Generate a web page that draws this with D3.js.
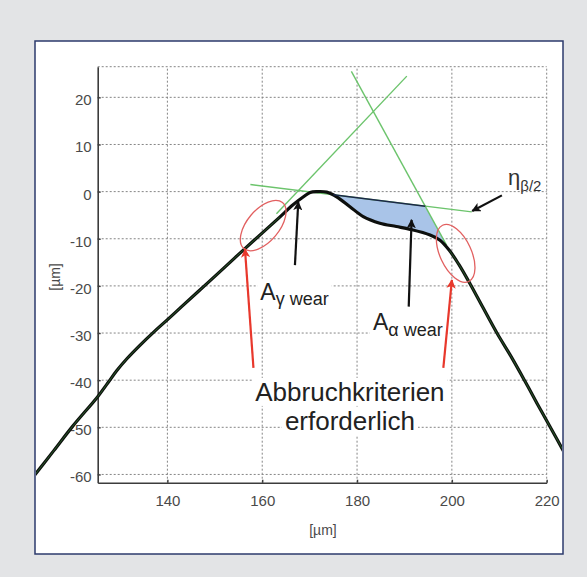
<!DOCTYPE html>
<html>
<head>
<meta charset="utf-8">
<script src="https://cdn.jsdelivr.net/npm/d3@7"></script>
<style>
  html, body { margin: 0; padding: 0; background: #e3e4e6; }
  svg { display: block; }
  text { font-family: "Liberation Sans", Arial, Helvetica, sans-serif; }
</style>
</head>
<body>
<svg id="chart" width="587" height="577"></svg>
<script>
// Measured tool-edge profile (µm)
const profileX = [111.5, 116.0, 120.0, 125.3, 127.5, 129.3, 131.5, 134.2, 137.0, 140.2, 143.0, 146.5,
  150.4, 153.2, 156.0, 160.2, 163.7, 166.5, 168.7, 170.1, 171.5, 173.6, 175.7, 178.5, 181.3, 184.8,
  188.3, 191.2, 195.4, 197.5, 199.5, 201.5, 203.8, 206.5, 209.5, 212.5, 215.3, 218.0, 220.5, 223.8];
const profileY = [-60.8, -55.0, -49.8, -43.5, -40.5, -38.0, -35.4, -32.6, -29.9, -27.0, -24.4, -21.2,
  -17.6, -15.0, -12.4, -8.6, -5.4, -2.8, -1.1, -0.2, 0.0, -0.1, -1.1, -3.2, -5.3, -6.7,
  -7.4, -8.0, -9.2, -10.3, -12.5, -15.5, -19.5, -24.5, -30.0, -35.0, -40.0, -45.0, -49.5, -55.5];

// Straight fits of rake face, flank face and the bisector line η β/2
const rakeFit = [[163.0, -4.7], [190.5, 24.5]];
const flankFit = [[178.8, 25.5], [198.9, -11.4]];
const bisector = [[157.5, 1.5], [204.2, -4.3]];
// Corner where the bisector meets the flank fit
const wearCorner = [194.4, -3.1];
// Range of the profile that bounds the flank wear area
const wearRange = [175.0, 198.9];

// Axis ticks
const xTicks = [140, 160, 180, 200, 220];
const yTicks = [20, 10, 0, -10, -20, -30, -40, -50, -60];

// Annotations (µm)
const critEllipses = [
  { cx: 160.2, cy: -7.2, a: 6.33, b: 3.37, angle: -50 },
  { cx: 200.8, cy: -13.1, a: 6.54, b: 3.3, angle: 65 }
];
const redArrows = [
  [[158.15, -37.4], [156.36, -12.2]],
  [[198.2, -37.4], [200.0, -18.75]]
];
const blackArrows = [
  [[166.9, -15.6], [167.6, -2.2]],
  [[190.9, -24.4], [191.5, -6.0]],
  [[210.55, -0.8], [204.3, -4.1]]
];

const svg = d3.select("#chart");

const frame = { x: 35, y: 41, w: 528, h: 513 };
const x = d3.scaleLinear().domain([125.3, 220]).range([97.7, 546.7]);
const y = d3.scaleLinear().domain([-61.75, 26.5]).range([482.7, 66.7]);

// defs: clip + arrowheads
const defs = svg.append("defs");
defs.append("clipPath").attr("id", "frameClip")
  .append("rect").attr("x", frame.x + 1).attr("y", frame.y + 1)
  .attr("width", frame.w - 2).attr("height", frame.h - 2);
function marker(id, color) {
  defs.append("marker").attr("id", id)
    .attr("viewBox", "0 0 10 10").attr("refX", 9).attr("refY", 5)
    .attr("markerWidth", 4.2).attr("markerHeight", 4.2)
    .attr("markerUnits", "strokeWidth").attr("orient", "auto")
    .append("path").attr("d", "M0,0 L10,5 L0,10 L2.5,5 Z").attr("fill", color);
}
marker("headRed", "#e8382c");
marker("headBlack", "#111");

// Panel
svg.append("rect").attr("x", frame.x).attr("y", frame.y)
  .attr("width", frame.w).attr("height", frame.h)
  .attr("fill", "#fff").attr("stroke", "#2c3a6c").attr("stroke-width", 1.5);

// Grid (dotted)
const grid = svg.append("g").attr("stroke", "#858585").attr("stroke-width", 1)
  .attr("stroke-dasharray", "2,2").attr("fill", "none");
xTicks.forEach(t => grid.append("line")
  .attr("x1", x(t)).attr("x2", x(t)).attr("y1", y.range()[0]).attr("y2", y.range()[1]));
yTicks.concat([y.domain()[1]]).forEach(t => grid.append("line")
  .attr("x1", x.range()[0]).attr("x2", x.range()[1]).attr("y1", y(t)).attr("y2", y(t)));

// Axes
const axisColor = "#3c3c3c";
const gx = svg.append("g").attr("transform", `translate(0,${y.range()[0]})`)
  .call(d3.axisBottom(x).tickValues(xTicks).tickFormat(d3.format("d"))
    .tickSizeInner(-3).tickSizeOuter(0).tickPadding(13));
const gy = svg.append("g").attr("transform", `translate(${x.range()[0]},0)`)
  .call(d3.axisLeft(y).tickValues(yTicks).tickFormat(d => d3.format("d")(d).replace("−", "-"))
    .tickSizeInner(-3).tickSizeOuter(0).tickPadding(6));
[gx, gy].forEach(g => {
  g.select(".domain").attr("stroke", axisColor).attr("stroke-width", 1.6);
  g.selectAll(".tick line").attr("stroke", axisColor).attr("stroke-width", 1.4);
  g.selectAll(".tick text").attr("fill", "#4a4a4a").attr("font-size", 15)
    .attr("font-family", "'Liberation Sans', Arial, sans-serif");
});
gy.selectAll(".tick text").attr("dy", "0.5em");

// Axis titles
svg.append("text").attr("x", 323).attr("y", 535).attr("text-anchor", "middle")
  .attr("font-size", 14).attr("fill", "#4a4a4a").text("[µm]");
svg.append("text").attr("transform", "translate(60,277) rotate(-90)")
  .attr("text-anchor", "middle").attr("font-size", 14).attr("fill", "#4a4a4a").text("[µm]");

// Labels with white backing boxes
const labels = svg.append("g");
function label(px, py, main, sub, mainSize, subSize, subDy, anchor) {
  const t = labels.append("text").attr("x", px).attr("y", py)
    .attr("font-size", mainSize).attr("fill", "#222").attr("text-anchor", anchor || "start");
  t.append("tspan").text(main);
  if (sub) t.append("tspan").attr("font-size", subSize).attr("dy", subDy).text(sub);
  const bb = t.node().getBBox();
  labels.insert("rect", () => t.node())
    .attr("x", bb.x - 3).attr("y", bb.y + 1).attr("width", bb.width + 6).attr("height", bb.height - 2)
    .attr("fill", "#fff");
  return t;
}
label(x(159.6), y(-23.0), "A", "γ wear", 23, 18, 5);
label(x(183.35), y(-29.4), "A", "α wear", 23, 18, 6);
label(x(178.5), y(-44.4), "Abbruchkriterien", null, 26, 0, 0, "middle");
label(x(178.5), y(-50.6), "erforderlich", null, 26, 0, 0, "middle");

// Marks clipped to the panel
const plot = svg.append("g").attr("clip-path", "url(#frameClip)");
const line = d3.line().x(d => x(d[0])).y(d => y(d[1]));
const profile = profileX.map((v, i) => [v, profileY[i]]);

// Flank wear area: bisector above, flank fit on the right, profile below
const wearTopStart = [wearRange[0],
  bisector[0][1] + (bisector[1][1] - bisector[0][1]) * (wearRange[0] - bisector[0][0]) / (bisector[1][0] - bisector[0][0])];
const wearLower = profile.filter(p => p[0] > wearRange[0] && p[0] < wearRange[1]).reverse();
const wearPoly = [wearTopStart, wearCorner, flankFit[1]].concat(wearLower);
plot.append("path").attr("d", line(wearPoly) + "Z")
  .attr("fill", "#a9c4e8").attr("stroke", "none");

// Green fit lines
const green = "#6cc46c";
[rakeFit, flankFit, bisector].forEach(seg => plot.append("path").attr("d", line(seg))
  .attr("fill", "none").attr("stroke", green).attr("stroke-width", 1.4));

// Profile
const smooth = d3.line().x(d => x(d[0])).y(d => y(d[1])).curve(d3.curveCatmullRom.alpha(0.5));
plot.append("path").attr("d", smooth(profile))
  .attr("fill", "none").attr("stroke", "#0d0f0d").attr("stroke-width", 3.2)
  .attr("stroke-linejoin", "round");
// green trace along the fitted flanks
[profile.filter(p => p[0] <= 165), profile.filter(p => p[0] >= 199)].forEach(seg =>
  plot.append("path").attr("d", smooth(seg)).attr("fill", "none")
    .attr("stroke", "#2f6f2f").attr("stroke-width", 1).attr("opacity", 0.8));

// Upper edge of the wear area
plot.append("path").attr("d", line([wearTopStart, wearCorner]))
  .attr("fill", "none").attr("stroke", "#1c2748").attr("stroke-width", 1.6);

// Ellipses marking where termination criteria are needed
const kx = x(1) - x(0);
critEllipses.forEach(e => plot.append("ellipse")
  .attr("transform", `translate(${x(e.cx)},${y(e.cy)}) rotate(${e.angle})`)
  .attr("rx", e.a * kx).attr("ry", e.b * kx)
  .attr("fill", "none").attr("stroke", "#e26060").attr("stroke-width", 1.3));

// Arrows
redArrows.forEach(a => plot.append("path").attr("d", line(a))
  .attr("stroke", "#e8382c").attr("stroke-width", 2.2).attr("fill", "none")
  .attr("marker-end", "url(#headRed)"));
blackArrows.forEach(a => plot.append("path").attr("d", line(a))
  .attr("stroke", "#111").attr("stroke-width", 2.2).attr("fill", "none")
  .attr("marker-end", "url(#headBlack)"));

// η β/2 label
const eta = svg.append("text").attr("x", x(211.85)).attr("y", y(1.4))
  .attr("font-size", 22).attr("fill", "#333");
eta.append("tspan").text("η");
eta.append("tspan").attr("font-size", 15).attr("dy", 6).text("β/2");
</script>
</body>
</html>
